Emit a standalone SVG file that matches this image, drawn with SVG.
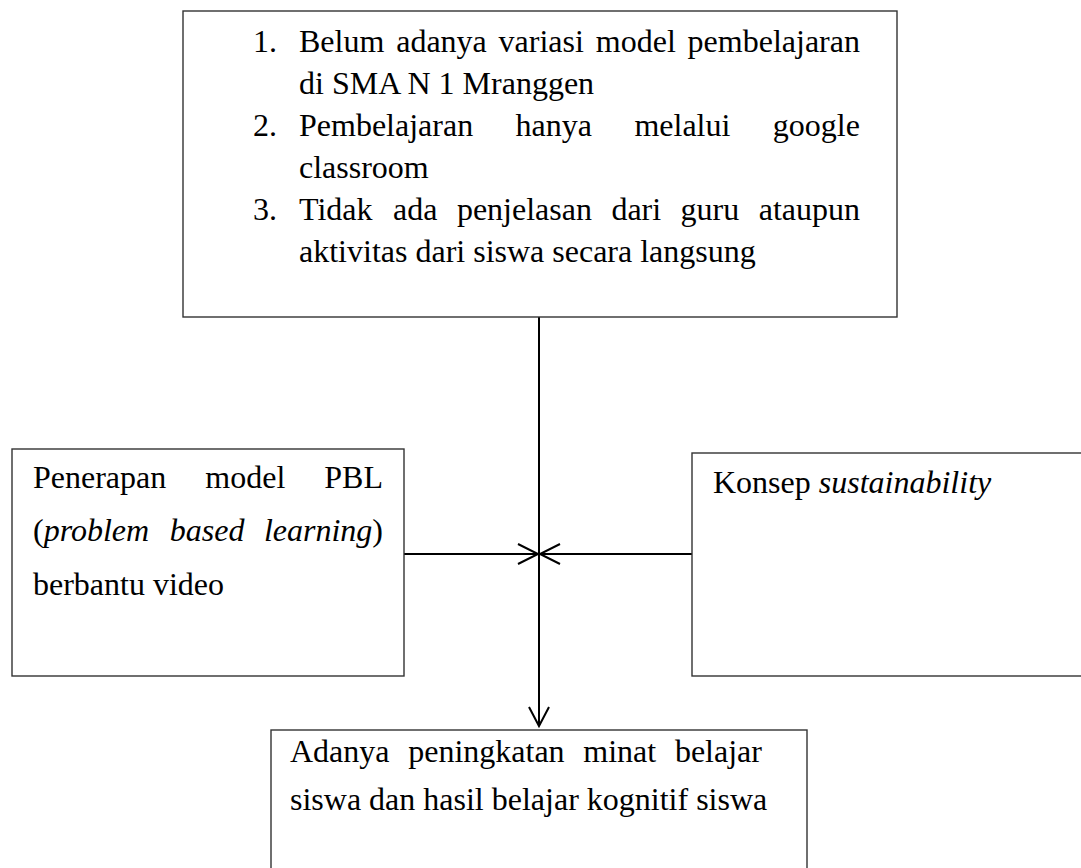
<svg xmlns="http://www.w3.org/2000/svg" width="1081" height="868" viewBox="0 0 1081 868">
<style>
.box{fill:#fff;stroke:#333;stroke-width:1.4}
.t{font-family:"Liberation Serif","Times New Roman",serif;font-size:32px;fill:#000}
.i{font-style:italic}
.c{stroke:#000;stroke-width:2;fill:none}
</style>
<rect width="1081" height="868" fill="#fff"/>
<g id="connectors">
<line class="c" x1="539" y1="317" x2="539" y2="726"/>
<polyline class="c" points="529,707 539,726 549,707"/>
<line class="c" x1="404" y1="554" x2="538" y2="554"/>
<polyline class="c" points="518,544 538,554 518,564"/>
<line class="c" x1="692" y1="554" x2="540" y2="554"/>
<polyline class="c" points="560,544 540,554 560,564"/>
</g>
<g id="node-problems">
<rect class="box" x="183" y="11" width="714" height="306"/>
<text class="t" x="253" y="52">1.</text>
<text class="t" y="52"><tspan x="299">Belum</tspan><tspan x="396.2">adanya</tspan><tspan x="498.6">variasi</tspan><tspan x="595.8">model</tspan><tspan x="687.6">pembelajaran</tspan></text>
<text class="t" x="299" y="94">di SMA N 1 Mranggen</text>
<text class="t" x="253" y="136">2.</text>
<text class="t" y="136"><tspan x="299">Pembelajaran</tspan><tspan x="515.6">hanya</tspan><tspan x="634.4">melalui</tspan><tspan x="772.8">google</tspan></text>
<text class="t" x="299" y="178">classroom</text>
<text class="t" x="253" y="220">3.</text>
<text class="t" y="220"><tspan x="299">Tidak</tspan><tspan x="393.1">ada</tspan><tspan x="456.9">penjelasan</tspan><tspan x="611.4">dari</tspan><tspan x="680.6">guru</tspan><tspan x="758.7">ataupun</tspan></text>
<text class="t" x="299" y="262">aktivitas dari siswa secara langsung</text>
</g>
<g id="node-pbl">
<rect class="box" x="12" y="449" width="392" height="227"/>
<text class="t" y="488"><tspan x="33">Penerapan</tspan><tspan x="205.3">model</tspan><tspan x="324.3">PBL</tspan></text>
<text class="t" y="541"><tspan x="33">(</tspan><tspan class="i">problem</tspan><tspan class="i" x="169.8">based</tspan><tspan class="i" x="263.9">learning</tspan><tspan>)</tspan></text>
<text class="t" x="33" y="595">berbantu video</text>
</g>
<g id="node-sustainability">
<rect class="box" x="692" y="453" width="400" height="223"/>
<text class="t" x="713" y="493">Konsep <tspan class="i">sustainability</tspan></text>
</g>
<g id="node-result">
<rect class="box" x="271" y="730" width="536" height="150"/>
<text class="t" y="762"><tspan x="290">Adanya</tspan><tspan x="408.2">peningkatan</tspan><tspan x="583.3">minat</tspan><tspan x="674.9">belajar</tspan></text>
<text class="t" x="290" y="810">siswa dan hasil belajar kognitif siswa</text>
</g>
</svg>
